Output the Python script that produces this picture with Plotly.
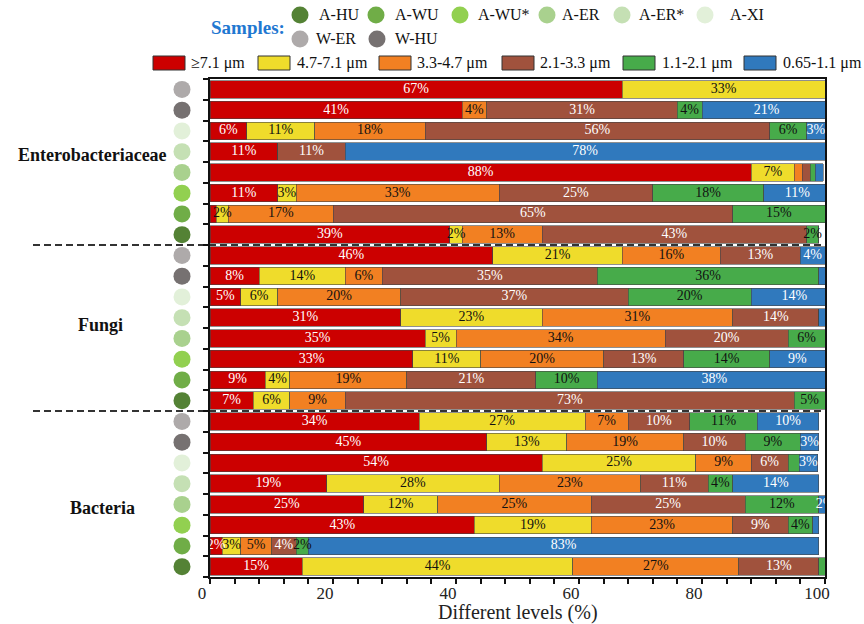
import plotly.graph_objects as go

# ---- data -------------------------------------------------------------
groups = ["Enterobacteriaceae", "Fungi", "Bacteria"]
samples = ["W-ER", "W-HU", "A-XI", "A-ER*", "A-ER", "A-WU*", "A-WU", "A-HU"]
sample_colors = {
    "A-HU": "#548235", "A-WU": "#70AD47", "A-WU*": "#92D050", "A-ER": "#A9D18E",
    "A-ER*": "#C5E0B4", "A-XI": "#E2F0D9", "W-ER": "#AEAAAA", "W-HU": "#767171",
}
legend_sample_order = ["A-HU", "A-WU", "A-WU*", "A-ER", "A-ER*", "A-XI", "W-ER", "W-HU"]

fractions = ["≥7.1 μm", "4.7-7.1 μm", "3.3-4.7 μm", "2.1-3.3 μm", "1.1-2.1 μm", "0.65-1.1 μm"]
fraction_colors = ["#CC0000", "#EFDC2B", "#F28022", "#A0523D", "#47AB4A", "#3079BD"]
label_colors = ["white", "#111111", "#111111", "white", "#111111", "white"]

# percentages, rows ordered group by group (Enterobacteriaceae, Fungi, Bacteria),
# samples top to bottom as in `samples`
pct_ge71 = [67, 41, 6, 11, 88, 11, 1.0, 39,
            46, 8, 5, 31, 35, 33, 9, 7,
            34, 45, 54, 19, 25, 43, 2, 15]
pct_47_71 = [33, 0, 11, 0, 7, 3, 2, 2,
             21, 14, 6, 23, 5, 11, 4, 6,
             27, 13, 25, 28, 12, 19, 3, 44]
pct_33_47 = [0, 4, 18, 0, 1.3, 33, 17, 13,
             16, 6, 20, 31, 34, 20, 19, 9,
             7, 19, 9, 23, 25, 23, 5, 27]
pct_21_33 = [0, 31, 56, 11, 1.3, 25, 65, 43,
             13, 35, 37, 14, 20, 13, 21, 73,
             10, 10, 6, 11, 25, 9, 4, 13]
pct_11_21 = [0, 4, 6, 0, 0.8, 18, 15, 2,
             0, 36, 20, 0, 6, 14, 10, 5,
             11, 9, 1.8, 4, 12, 4, 2, 1.0]
pct_065_11 = [0, 21, 3, 78, 1.3, 11, 0, 0,
              4, 1.2, 14, 1.0, 0, 9, 38, 0.5,
              10, 3, 3, 14, 2, 1.0, 83, 0]
series = [pct_ge71, pct_47_71, pct_33_47, pct_21_33, pct_11_21, pct_065_11]

x_ticks = [0, 20, 40, 60, 80, 100]
x_title = "Different levels (%)"

# ---- geometry helpers (pixel -> paper) ----------------------------------
W, H = 864, 624
ML, MR, MT, MB = 160, 39, 79, 47      # paper area
AXIS_LEFT = 210                       # left edge of the bar axis
PW, PH = W - ML - MR, H - MT - MB


def px(xp):
    return (xp - ML) / PW


def py(yp):
    return (H - MB - yp) / PH


FONT = "Liberation Serif"
n_rows = len(groups) * len(samples)
rows = list(range(n_rows))
row_samples = [s for _ in groups for s in samples]

fig = go.Figure()

# stacked bars
for name, vals, col in zip(fractions, series, fraction_colors):
    fig.add_trace(go.Bar(
        x=vals, y=rows, orientation="h", name=name,
        marker=dict(color=col, line=dict(color="#444444", width=0.6)),
        showlegend=False, hoverinfo="skip",
    ))

# value labels at segment centres
base = [0.0] * n_rows
for vals, tcol in zip(series, label_colors):
    xs, ys, ts = [], [], []
    for i, v in enumerate(vals):
        if v >= 2:
            xs.append(base[i] + v / 2)
            ys.append(i)
            ts.append(f"{v:.0f}%")
        base[i] += v
    fig.add_trace(go.Scatter(
        x=xs, y=ys, text=ts, mode="text", textposition="middle center",
        textfont=dict(family=FONT, size=14, color=tcol),
        showlegend=False, hoverinfo="skip", cliponaxis=False,
    ))

# sample markers beside each row (own narrow x axis left of the bars)
fig.add_trace(go.Scatter(
    x=[0.5] * n_rows, y=rows, mode="markers", xaxis="x2", yaxis="y",
    marker=dict(size=17, color=[sample_colors[s] for s in row_samples], line=dict(width=0)),
    showlegend=False, hoverinfo="skip", cliponaxis=False,
))

shapes = []
annotations = []

# group separators
n_s = len(samples)
for g in range(1, len(groups)):
    shapes.append(dict(
        type="line", xref="paper", yref="y", x0=px(33), x1=1,
        y0=g * n_s - 0.5, y1=g * n_s - 0.5, layer="below",
        line=dict(color="#333333", width=1.8, dash="7px,4px"),
    ))

# group names
group_pos = [(92, 155), (100, 325), (102, 508)]
for gname, (gx, gy) in zip(groups, group_pos):
    annotations.append(dict(
        text=f"<b>{gname}</b>", xref="paper", yref="paper", x=px(gx), y=py(gy),
        xanchor="center", yanchor="middle", showarrow=False,
        font=dict(family=FONT, size=18, color="#111111"),
    ))

# x axis title
annotations.append(dict(
    text=x_title, xref="paper", yref="paper", x=px((AXIS_LEFT + W - MR) / 2), y=py(612),
    xanchor="center", yanchor="middle", showarrow=False,
    font=dict(family=FONT, size=20, color="#222222"),
))

# samples key
annotations.append(dict(
    text="<b>Samples:</b>", xref="paper", yref="paper", x=px(209), y=py(27),
    xanchor="left", yanchor="middle", showarrow=False,
    font=dict(family=FONT, size=19, color="#1F78D1"),
))
sample_key_pos = [(300, 317, 15), (376, 393, 15), (460, 476, 15), (547, 560, 15),
                  (622, 637, 15), (705, 728, 15), (300, 314, 39), (377, 393, 39)]
for s, (cx, tx, cy) in zip(legend_sample_order, sample_key_pos):
    shapes.append(dict(
        type="circle", xref="paper", yref="paper", xsizemode="pixel", ysizemode="pixel",
        xanchor=px(cx), yanchor=py(cy), x0=-8.5, x1=8.5, y0=-8.5, y1=8.5,
        fillcolor=sample_colors[s], line=dict(width=0),
    ))
    annotations.append(dict(
        text=s, xref="paper", yref="paper", x=px(tx), y=py(cy),
        xanchor="left", yanchor="middle", showarrow=False,
        font=dict(family=FONT, size=16, color="#111111"),
    ))

# size-fraction key
frac_key_x = [(153, 189), (258, 295), (379, 415), (502, 538), (623, 660), (744, 781)]
for name, col, (rx, tx) in zip(fractions, fraction_colors, frac_key_x):
    shapes.append(dict(
        type="rect", xref="paper", yref="paper", x0=px(rx), x1=px(rx + 32),
        y0=py(70), y1=py(56), fillcolor=col, line=dict(color="#333333", width=1),
    ))
    annotations.append(dict(
        text=name, xref="paper", yref="paper", x=px(tx), y=py(63),
        xanchor="left", yanchor="middle", showarrow=False,
        font=dict(family=FONT, size=16, color="#111111"),
    ))

fig.update_layout(
    width=W, height=H, barmode="stack", bargap=0.15,
    margin=dict(l=ML, r=MR, t=MT, b=MB, autoexpand=False),
    plot_bgcolor="rgba(0,0,0,0)", paper_bgcolor="white",
    font=dict(family=FONT, color="#111111"),
    shapes=shapes, annotations=annotations,
    xaxis=dict(
        domain=[px(AXIS_LEFT), 1], anchor="y", automargin=False,
        range=[0, 100], tickvals=x_ticks, ticks="outside", ticklen=5, tickwidth=2,
        tickcolor="#111111", showline=True, linecolor="#111111", linewidth=2, mirror=True,
        showgrid=False, zeroline=False, ticklabelshift=-8, ticklabelstandoff=-5,
        tickfont=dict(family=FONT, size=17, color="#222222"),
        minor=dict(dtick=4, ticks="outside", ticklen=5, tickwidth=1.5, tickcolor="#111111"),
    ),
    xaxis2=dict(
        domain=[px(172), px(192)], anchor="y", range=[0, 1], visible=False,
        fixedrange=True, automargin=False,
    ),
    yaxis=dict(
        range=[n_rows - 0.5, -0.5], tickvals=[i - 0.5 for i in range(n_rows + 1)],
        anchor="x", automargin=False, showticklabels=False, ticks="outside", ticklen=5,
        tickwidth=2, tickcolor="#111111", showline=True, linecolor="#111111", linewidth=2,
        mirror=True, showgrid=False, zeroline=False,
    ),
)

fig.write_html("out.html")
